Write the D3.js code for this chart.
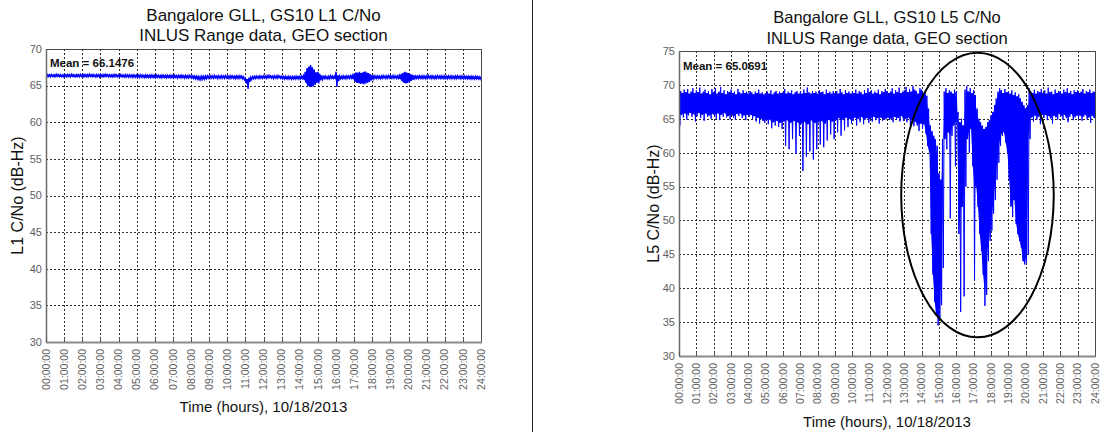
<!DOCTYPE html>
<html>
<head>
<meta charset="utf-8">
<script src="https://cdn.jsdelivr.net/npm/d3@7"></script>
<style>
  body { margin: 0; background: #fff; }
  svg { display: block; font-family: "Liberation Sans", Arial, sans-serif; }
</style>
</head>
<body>
<svg id="chart" width="1108" height="434"></svg>
<script>
// ---- data -------------------------------------------------------------
// Hour-of-day tick labels shared by both panels
const timeTickLabels = [
  "00:00:00","01:00:00","02:00:00","03:00:00","04:00:00","05:00:00","06:00:00",
  "07:00:00","08:00:00","09:00:00","10:00:00","11:00:00","12:00:00","13:00:00",
  "14:00:00","15:00:00","16:00:00","17:00:00","18:00:00","19:00:00","20:00:00",
  "21:00:00","22:00:00","23:00:00","24:00:00"
];
const timeTicks = [0,1,2,3,4,5,6,7,8,9,10,11,12,13,14,15,16,17,18,19,20,21,22,23,24];

const l1YTicks = [30,35,40,45,50,55,60,65,70];
const l5YTicks = [30,35,40,45,50,55,60,65,70,75];

const l1Mean = 66.1476;
const l5Mean = 65.0691;

// Samples are 0.1 h apart; each sample holds the high and low C/No within it.
const sampleStep = 0.1;

// L1 C/No (dB-Hz), per-sample maximum
const l1High = [
  66.45,66.50,66.48,66.52,66.46,66.50,66.55,66.48,66.50,66.46,
  66.50,66.47,66.52,66.49,66.55,66.50,66.46,66.51,66.48,66.53,
  66.49,66.52,66.47,66.50,66.54,66.48,66.51,66.46,66.50,66.47,
  66.52,66.48,66.50,66.55,66.47,66.50,66.46,66.49,66.52,66.48,
  66.46,66.50,66.47,66.44,66.49,66.45,66.48,66.43,66.47,66.44,
  66.45,66.42,66.47,66.44,66.40,66.46,66.43,66.41,66.45,66.42,
  66.40,66.44,66.41,66.38,66.43,66.40,66.37,66.42,66.39,66.41,
  66.38,66.42,66.36,66.40,66.37,66.41,66.35,66.39,66.36,66.40,
  66.36,66.33,66.30,66.27,66.25,66.22,66.28,66.25,66.30,66.34,
  66.32,66.36,66.33,66.37,66.30,66.34,66.31,66.35,66.32,66.36,
  66.33,66.30,66.35,66.31,66.28,66.33,66.30,66.34,66.29,66.20,
  66.00,65.90,66.10,66.15,66.22,66.26,66.30,66.27,66.32,66.28,
  66.34,66.30,66.36,66.40,66.33,66.29,66.35,66.31,66.37,66.30,
  66.28,66.24,66.27,66.22,66.26,66.20,66.25,66.22,66.27,66.24,
  66.26,66.30,66.35,66.90,67.40,67.60,67.80,67.50,67.20,66.80,
  66.90,66.60,66.40,66.25,66.30,66.22,66.28,66.35,66.30,66.26,
  66.90,66.40,66.30,66.26,66.32,66.28,66.34,66.30,66.35,66.40,
  66.60,66.80,66.75,66.90,66.70,66.85,66.95,66.80,66.70,66.55,
  66.40,66.35,66.30,66.34,66.28,66.32,66.36,66.30,66.33,66.38,
  66.35,66.32,66.36,66.30,66.34,66.38,66.60,66.75,66.90,66.80,
  66.70,66.55,66.50,66.38,66.32,66.30,66.34,66.30,66.33,66.29,
  66.32,66.36,66.30,66.34,66.28,66.32,66.35,66.30,66.33,66.29,
  66.31,66.28,66.33,66.29,66.32,66.27,66.30,66.34,66.28,66.31,
  66.27,66.30,66.25,66.28,66.24,66.27,66.22,66.26,66.23,66.20
];
// L1 C/No (dB-Hz), per-sample minimum
const l1Low = [
  66.20,66.24,66.22,66.26,66.21,66.25,66.28,66.22,66.24,66.20,
  66.25,66.21,66.26,66.22,66.28,66.23,66.20,66.25,66.22,66.27,
  66.22,66.26,66.20,66.24,66.27,66.21,66.25,66.19,66.23,66.20,
  66.25,66.21,66.24,66.28,66.20,66.23,66.19,66.22,66.26,66.21,
  66.18,66.22,66.19,66.15,66.20,66.16,66.19,66.14,66.18,66.15,
  66.16,66.12,66.18,66.14,66.10,66.16,66.13,66.11,66.15,66.12,
  66.10,66.14,66.11,66.08,66.13,66.10,66.06,66.12,66.09,66.11,
  66.08,66.12,66.05,66.10,66.06,66.11,66.04,66.09,66.05,66.10,
  66.05,66.00,65.95,65.90,65.85,65.82,65.90,65.88,65.95,66.02,
  66.00,66.05,66.02,66.06,65.98,66.03,66.00,66.04,66.01,66.05,
  66.02,65.98,66.04,66.00,65.96,66.02,65.98,66.03,65.95,65.80,
  65.30,64.55,65.50,65.85,65.95,65.98,66.02,65.98,66.04,66.00,
  66.05,66.00,66.07,66.10,66.03,65.98,66.05,66.00,66.08,66.00,
  65.96,65.92,65.95,65.90,65.94,65.88,65.93,65.90,65.95,65.92,
  65.94,65.98,65.80,65.40,65.00,64.85,64.80,64.90,65.10,65.40,
  65.30,65.70,65.85,65.95,65.98,65.92,65.96,66.02,65.98,65.94,
  64.85,65.60,65.95,65.94,66.00,65.96,66.02,65.98,66.03,65.90,
  65.60,65.40,65.35,65.25,65.30,65.20,65.30,65.40,65.50,65.70,
  65.90,66.00,65.98,66.02,65.96,66.00,66.04,65.98,66.01,66.05,
  66.02,66.00,66.04,65.98,66.02,65.90,65.60,65.40,65.30,65.35,
  65.45,65.65,65.80,65.95,66.00,65.98,66.02,65.98,66.01,65.96,
  66.00,66.04,65.98,66.02,65.96,66.00,66.03,65.98,66.01,65.97,
  65.99,65.96,66.01,65.97,66.00,65.95,65.98,66.02,65.96,65.99,
  65.95,65.98,65.93,65.96,65.92,65.95,65.90,65.94,65.91,65.88
];

// L5 C/No (dB-Hz), per-sample maximum
const l5High = [
  70.2,69.1,68.8,69.3,68.9,69.4,68.7,69.0,69.5,68.8,
  69.2,68.9,69.6,68.7,69.0,69.3,68.8,69.1,68.6,69.4,
  68.9,69.5,68.7,69.0,69.7,68.8,69.2,68.6,69.1,68.9,
  69.3,68.8,69.0,68.6,69.4,68.9,68.7,69.2,68.8,69.0,
  68.7,69.1,68.9,68.6,69.0,68.8,69.3,68.7,68.9,68.6,
  68.8,69.0,68.7,69.2,68.6,68.9,69.1,68.7,69.0,68.8,
  68.9,69.4,68.7,69.0,68.8,69.2,68.6,68.9,69.1,68.7,
  69.0,68.7,69.3,68.8,69.6,68.9,68.7,69.1,68.8,69.0,
  68.7,69.2,68.9,69.0,68.6,69.3,68.8,69.0,68.7,69.1,
  68.8,69.1,68.7,69.4,68.9,68.6,69.2,68.8,69.0,68.7,
  69.0,68.8,69.3,68.7,69.1,68.9,68.6,69.2,68.8,69.5,
  68.9,69.2,68.7,69.0,68.8,69.3,68.6,69.1,68.9,69.4,
  69.1,68.8,69.0,69.5,68.7,69.2,68.9,69.6,68.8,69.0,
  69.2,69.7,68.9,69.4,69.0,69.8,69.3,69.1,68.7,69.5,
  69.3,68.8,69.0,68.4,66.5,64.0,63.2,62.5,62.0,61.0,
  57.0,56.0,62.0,69.0,69.5,68.8,69.2,69.0,68.7,69.3,
  69.0,66.0,64.5,65.0,64.0,69.3,69.8,69.0,69.5,68.8,
  69.2,68.5,66.5,65.0,64.5,64.0,63.5,63.8,64.5,64.8,
  65.5,66.0,67.0,68.0,69.0,69.5,69.2,68.8,69.4,68.9,
  69.0,68.7,69.2,68.5,68.9,68.3,68.6,68.0,67.5,67.0,
  66.5,67.0,69.5,69.0,68.8,69.3,68.7,69.1,68.9,69.4,
  68.8,69.2,68.7,69.6,68.9,69.0,68.6,69.3,68.8,69.1,
  69.0,68.7,69.3,68.9,69.5,68.8,69.1,68.6,69.2,68.9,
  69.2,68.8,69.0,69.4,68.7,69.1,68.9,69.3,68.8,69.0
];
// L5 C/No (dB-Hz), per-sample minimum
const l5Low = [
  64.0,65.6,65.2,65.8,64.9,65.5,65.9,65.3,65.7,64.6,
  65.4,65.9,65.1,65.6,64.7,65.8,65.3,65.5,65.0,65.7,
  65.5,65.0,65.8,64.8,65.6,65.3,65.9,65.2,65.4,64.9,
  65.6,65.2,64.9,65.7,65.4,65.8,65.1,65.5,64.8,65.6,
  65.3,65.6,65.0,65.4,64.6,65.2,64.3,65.0,64.7,64.4,
  64.8,64.2,64.9,63.6,64.5,64.0,64.7,63.8,64.4,63.5,
  64.6,61.0,64.8,60.5,64.4,62.0,64.7,59.8,64.5,62.5,
  64.3,57.3,64.6,59.4,64.2,60.2,64.8,59.0,64.4,60.5,
  64.5,61.2,64.7,60.8,64.3,61.8,64.9,62.7,64.6,62.0,
  64.8,63.0,65.1,62.5,64.9,63.3,65.2,63.8,65.0,64.3,
  64.7,65.2,64.0,65.0,64.5,65.3,64.2,64.9,65.1,64.4,
  65.0,64.6,65.3,64.8,65.1,64.3,65.2,64.7,65.0,64.9,
  65.2,64.8,65.0,64.5,65.3,64.9,65.1,64.6,65.4,64.7,
  65.0,64.5,65.2,64.1,64.8,63.9,64.6,64.0,63.2,64.3,
  63.5,64.2,62.8,61.0,60.0,48.0,42.0,38.0,36.0,34.5,
  35.5,37.5,43.0,62.0,60.5,63.0,50.3,62.5,64.0,58.0,
  64.5,48.0,36.5,52.0,38.8,55.0,62.0,60.0,63.5,58.0,
  41.2,55.0,52.0,48.0,45.5,42.0,37.4,39.0,44.0,47.0,
  48.5,51.0,53.0,56.0,58.5,61.0,62.5,63.0,61.5,60.0,
  56.0,52.0,50.5,53.0,49.5,48.0,47.0,46.0,44.0,43.5,
  43.8,45.0,62.0,65.2,64.6,65.5,64.9,65.3,64.2,65.6,
  65.1,65.6,64.8,65.4,65.0,64.3,65.5,65.2,64.9,65.7,
  65.4,64.9,65.6,65.1,64.5,65.3,65.7,64.8,65.2,65.5,
  65.0,65.5,64.7,65.3,65.6,64.9,65.2,64.4,65.5,65.1
];

// Highlighted disturbance region on the L5 panel (hours, dB-Hz)
const l5Highlight = { centerHour: 17.22, centerValue: 53.75, radiusHours: 4.40, radiusValue: 21.0 };

// ---- drawing ----------------------------------------------------------
const svg = d3.select("#chart");

// vertical separator between the two panels
svg.append("line")
  .attr("x1", 532.5).attr("x2", 532.5)
  .attr("y1", 0).attr("y2", 432)
  .attr("stroke", "#222").attr("stroke-width", 1);

function drawPanel(p) {
  const x = d3.scaleLinear().domain([0, 24]).range([p.left, p.right]);
  const y = d3.scaleLinear().domain(p.yDomain).range([p.bottom, p.top]);
  const g = svg.append("g");

  const clipId = "clip-" + p.id;
  svg.append("clipPath").attr("id", clipId)
    .append("rect")
    .attr("x", p.left).attr("y", p.top)
    .attr("width", p.right - p.left).attr("height", p.bottom - p.top);

  // dotted grid
  const grid = g.append("g").attr("stroke", "#2a2a2a").attr("stroke-width", 1)
    .attr("stroke-dasharray", "2,2").attr("shape-rendering", "crispEdges");
  grid.selectAll("line.v").data(timeTicks.slice(1, -1)).join("line")
    .attr("x1", d => Math.round(x(d)) + 0.5).attr("x2", d => Math.round(x(d)) + 0.5)
    .attr("y1", p.top).attr("y2", p.bottom);
  grid.selectAll("line.h").data(p.yTicks.slice(1, -1)).join("line")
    .attr("y1", d => Math.round(y(d)) + 0.5).attr("y2", d => Math.round(y(d)) + 0.5)
    .attr("x1", p.left).attr("x2", p.right);

  const trace = g.append("g").attr("clip-path", `url(#${clipId})`);

  // solid core: the range that adjacent samples share
  const core = p.high.slice(0, -1).map((h, i) => ({
    t: i * sampleStep + sampleStep / 2,
    top: Math.min(h, p.high[i + 1]),
    bot: Math.max(p.low[i], p.low[i + 1])
  }));
  core.unshift({ t: 0, top: p.high[0], bot: p.low[0] });
  core.push({ t: 24, top: p.high[p.high.length - 1], bot: p.low[p.low.length - 1] });
  trace.append("path")
    .datum(core)
    .attr("fill", "#0000ff")
    .attr("d", d3.area()
      .defined(d => d.top >= d.bot)
      .x(d => x(d.t)).y0(d => y(d.bot)).y1(d => y(d.top)));

  // full trace: high and low of each sample, giving the spiky edges
  const pts = [];
  p.high.forEach((h, i) => {
    const t = i * sampleStep;
    pts.push([t, h]);
    pts.push([t + sampleStep / 2, p.low[i]]);
  });
  pts.push([24, p.high[p.high.length - 1]]);
  trace.append("path")
    .datum(pts)
    .attr("fill", "none")
    .attr("stroke", "#0000ff")
    .attr("stroke-width", p.lineWidth)
    .attr("d", d3.line().x(d => x(d[0])).y(d => y(d[1])));

  // optional highlight ellipse
  if (p.highlight) {
    const h = p.highlight;
    g.append("ellipse")
      .attr("cx", x(h.centerHour)).attr("cy", y(h.centerValue))
      .attr("rx", x(h.centerHour + h.radiusHours) - x(h.centerHour))
      .attr("ry", y(h.centerValue - h.radiusValue) - y(h.centerValue))
      .attr("fill", "none").attr("stroke", "#000").attr("stroke-width", 2);
  }

  // plot frame
  g.append("rect")
    .attr("x", p.left + 0.5).attr("y", p.top + 0.5)
    .attr("width", p.right - p.left).attr("height", p.bottom - p.top)
    .attr("fill", "none").attr("stroke", "#4a4a4a").attr("stroke-width", 1);
  g.append("line")
    .attr("x1", p.left).attr("x2", p.right + 1)
    .attr("y1", p.bottom + 0.5).attr("y2", p.bottom + 0.5)
    .attr("stroke", "#8a8a8a").attr("stroke-width", 2);
  g.append("line")
    .attr("x1", p.left + 0.5).attr("x2", p.left + 0.5)
    .attr("y1", p.top).attr("y2", p.bottom)
    .attr("stroke", "#6a6a6a").attr("stroke-width", 1.5);

  // inward ticks
  g.append("g").attr("stroke", "#555").attr("stroke-width", 1)
    .selectAll("line").data(timeTicks).join("line")
    .attr("x1", d => Math.round(x(d)) + 0.5).attr("x2", d => Math.round(x(d)) + 0.5)
    .attr("y1", p.bottom).attr("y2", p.bottom - 4);

  // y tick labels
  g.append("g").selectAll("text").data(p.yTicks).join("text")
    .attr("x", p.left - 4).attr("y", d => y(d))
    .attr("dy", "0.35em").attr("text-anchor", "end")
    .attr("font-size", 11).attr("fill", "#606060")
    .text(d => d);

  // x tick labels, vertical
  g.append("g").selectAll("text").data(timeTicks).join("text")
    .attr("transform", d => `translate(${x(d)},${p.bottom + 7}) rotate(-90)`)
    .attr("dy", "0.35em").attr("text-anchor", "end")
    .attr("font-size", 10.5).attr("fill", "#606060")
    .text((d, i) => timeTickLabels[i]);

  // titles
  const cx = (p.left + p.right) / 2;
  p.title.forEach((line, i) => {
    g.append("text").attr("x", cx).attr("y", p.titleY[i])
      .attr("text-anchor", "middle").attr("font-size", p.titleSize).attr("fill", "#111")
      .text(line);
  });

  // axis titles
  g.append("text").attr("x", cx).attr("y", p.xTitleY)
    .attr("text-anchor", "middle").attr("font-size", 15).attr("fill", "#111")
    .text("Time (hours), 10/18/2013");
  g.append("text")
    .attr("transform", `translate(${p.yTitleX},${(p.top + p.bottom) / 2}) rotate(-90)`)
    .attr("dy", "0.35em").attr("text-anchor", "middle")
    .attr("font-size", 16).attr("fill", "#111")
    .text(p.yTitle);

  // mean annotation
  g.append("text").attr("x", p.left + 4).attr("y", p.meanY)
    .attr("font-size", 11.5).attr("font-weight", "bold").attr("fill", "#111")
    .text(`Mean = ${p.mean.toFixed(4)}`);
}

drawPanel({
  id: "l1", left: 46, right: 481, top: 49, bottom: 342,
  yDomain: [30, 70], yTicks: l1YTicks,
  high: l1High, low: l1Low, lineWidth: 1.4,
  title: ["Bangalore GLL, GS10 L1 C/No", "INLUS Range data, GEO section"],
  titleY: [21, 41], titleSize: 17, xTitleY: 412,
  yTitle: "L1 C/No (dB-Hz)", yTitleX: 17,
  mean: l1Mean, meanY: 67
});

drawPanel({
  id: "l5", left: 679, right: 1095, top: 51, bottom: 356,
  yDomain: [30, 75], yTicks: l5YTicks,
  high: l5High, low: l5Low, lineWidth: 1,
  title: ["Bangalore GLL, GS10 L5 C/No", "INLUS Range data, GEO section"],
  titleY: [22.5, 43.5], titleSize: 16.5, xTitleY: 427,
  yTitle: "L5 C/No (dB-Hz)", yTitleX: 653,
  mean: l5Mean, meanY: 70,
  highlight: l5Highlight
});
</script>
</body>
</html>
